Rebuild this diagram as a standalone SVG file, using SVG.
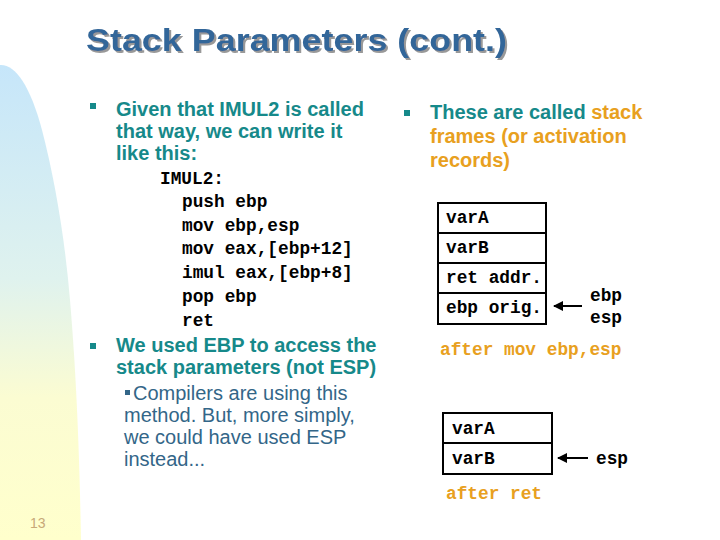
<svg xmlns="http://www.w3.org/2000/svg" width="720" height="540" viewBox="0 0 720 540">
<defs>
<linearGradient id="bg" x1="0" y1="0" x2="0" y2="1">
<stop offset="0" stop-color="#c6e6fa"/>
<stop offset="0.45" stop-color="#dff2ee"/>
<stop offset="0.7" stop-color="#fbfcd2"/>
<stop offset="1" stop-color="#ffffcc"/>
</linearGradient>
<filter id="sh" x="-5%" y="-20%" width="110%" height="140%">
<feDropShadow dx="2" dy="2" stdDeviation="0.3" flood-color="#999999" flood-opacity="1"/>
</filter>
<marker id="ah" viewBox="0 0 10 10" refX="9" refY="5" markerWidth="10" markerHeight="10" markerUnits="userSpaceOnUse" orient="auto">
<path d="M0,0 L10,5 L0,10 z" fill="#000"/>
</marker>
<style>
.title{font-family:"Liberation Sans",Arial,sans-serif;font-weight:bold;font-size:32px;fill:#336699}
.b{font-family:"Liberation Sans",Arial,sans-serif;font-weight:bold;font-size:20px;fill:#16898a}
.bo{fill:#e8a020}
.s{font-family:"Liberation Sans",Arial,sans-serif;font-size:20px;fill:#336688}
.code{font-family:"Liberation Mono","Courier New",monospace;font-weight:bold;font-size:17.8px;fill:#000}
.ocode{font-family:"Liberation Mono","Courier New",monospace;font-weight:bold;font-size:17.8px;fill:#e8a020}
.box{fill:#fff;stroke:#000;stroke-width:2}
.conn{stroke:#000;stroke-width:2;fill:none}
.sq{fill:#16898a}
</style>
</defs>
<path d="M0,65 C15,64 30,85 42,130 C55,180 65,240 70,300 C75,360 79,430 81,540 L0,540 Z" fill="url(#bg)"/>
<text x="30" y="528" font-family="Liberation Sans,Arial,sans-serif" font-size="14" fill="#c8a878">13</text>
<g id="title">
<text class="title" x="86" y="51" textLength="421" lengthAdjust="spacingAndGlyphs" filter="url(#sh)">Stack Parameters (cont.)</text>
</g>
<g id="left-text">
<rect class="sq" x="90" y="103" width="6" height="6"/>
<text class="b" x="116" y="116">Given that IMUL2 is called</text>
<text class="b" x="116" y="138">that way, we can write it</text>
<text class="b" x="116" y="160">like this:</text>
<text class="code" x="160" y="184">IMUL2:</text>
<text class="code" x="182" y="207">push ebp</text>
<text class="code" x="182" y="231">mov ebp,esp</text>
<text class="code" x="182" y="254">mov eax,[ebp+12]</text>
<text class="code" x="182" y="278">imul eax,[ebp+8]</text>
<text class="code" x="182" y="302">pop ebp</text>
<text class="code" x="182" y="326">ret</text>
<rect class="sq" x="90" y="343" width="6" height="6"/>
<text class="b" x="116" y="352">We used EBP to access the</text>
<text class="b" x="116" y="374">stack parameters (not ESP)</text>
<rect x="125" y="390" width="5" height="5" fill="#336688"/>
<text class="s" x="133" y="400">Compilers are using this</text>
<text class="s" x="124" y="422">method. But, more simply,</text>
<text class="s" x="124" y="444">we could have used ESP</text>
<text class="s" x="124" y="466">instead...</text>
</g>
<g id="right-text">
<rect class="sq" x="404" y="110" width="6" height="6"/>
<text class="b" x="430" y="119">These are called <tspan class="bo">stack</tspan></text>
<text class="b bo" x="430" y="143">frames (or activation</text>
<text class="b bo" x="430" y="167">records)</text>
</g>
<g id="stack1">
<rect class="box" x="438" y="203" width="108" height="121"/>
<line class="conn" x1="438" y1="233" x2="546" y2="233"/>
<line class="conn" x1="438" y1="263" x2="546" y2="263"/>
<line class="conn" x1="438" y1="293" x2="546" y2="293"/>
<text class="code" x="446" y="223">varA</text>
<text class="code" x="446" y="253">varB</text>
<text class="code" x="446" y="283">ret addr.</text>
<text class="code" x="446" y="313">ebp orig.</text>
</g>
<g id="labels1">
<text class="code" x="590" y="301">ebp</text>
<text class="code" x="590" y="323">esp</text>
<text class="ocode" x="440" y="355">after mov ebp,esp</text>
</g>
<g id="stack2">
<rect class="box" x="443" y="413" width="109" height="61"/>
<line class="conn" x1="443" y1="443" x2="552" y2="443"/>
<text class="code" x="452" y="434">varA</text>
<text class="code" x="452" y="464">varB</text>
</g>
<g id="labels2">
<text class="code" x="596" y="464">esp</text>
<text class="ocode" x="446" y="499">after ret</text>
</g>
<g id="connectors">
<line class="conn" x1="582" y1="306" x2="554" y2="306" marker-end="url(#ah)"/>
<line class="conn" x1="588" y1="458" x2="558" y2="458" marker-end="url(#ah)"/>
</g>
</svg>
